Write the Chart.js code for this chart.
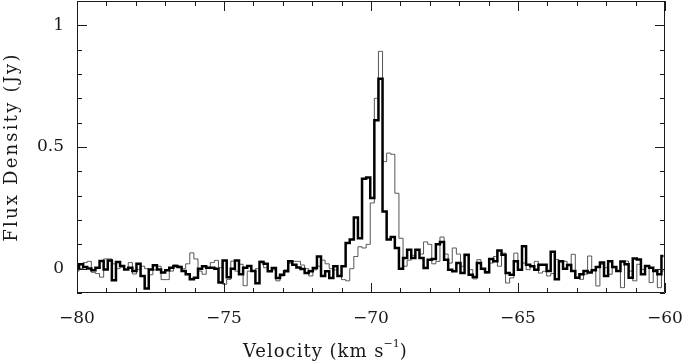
<!DOCTYPE html>
<html>
<head>
<meta charset="utf-8">
<script src="https://cdn.jsdelivr.net/npm/chart.js@4.4.1/dist/chart.umd.min.js"></script>
<style>
  html, body { margin: 0; padding: 0; background: #fff; }
  #wrap { width: 685px; height: 361px; }
</style>
</head>
<body>
<div id="wrap"><canvas id="myChart"></canvas></div>
<script>
// channel grid of the spectrum (km/s): centre of first channel and channel width
const chanStart = -80.0;
const chanWidth = 0.1395;

// flux density per channel (Jy)
const thickFlux = [
  0.001, 0.018, 0.007, 0.001, -0.007, 0.004, 0.031, -0.003, 0.034, -0.048,
  0.027, 0.011, -0.003, 0.004, -0.010, 0.020, -0.030, -0.082, -0.003, 0.014,
  -0.003, -0.016, -0.007, 0.004, 0.011, 0.007, -0.010, -0.023, -0.044, -0.037,
  0.000, 0.010, 0.004, 0.004, 0.000, -0.057, 0.034, -0.035, 0.000, 0.034,
  -0.023, 0.004, 0.011, -0.010, -0.060, 0.027, 0.020, -0.011, 0.003, -0.038,
  -0.025, -0.011, 0.030, 0.016, 0.005, -0.001, -0.018, -0.011, 0.003, 0.050,
  -0.030, -0.011, -0.038, 0.010, -0.030, 0.010, 0.105, 0.120, 0.210, 0.125,
  0.370, 0.375, 0.290, 0.610, 0.780, 0.235, 0.120, 0.130, 0.085, 0.000,
  0.044, 0.078, 0.044, 0.078, 0.044, 0.003, 0.037, 0.040, 0.100, 0.110,
  0.037, -0.004, -0.011, 0.023, -0.018, 0.057, -0.025, -0.034, 0.023, 0.000,
  -0.015, 0.040, 0.030, 0.075, 0.057, -0.018, -0.025, 0.030, -0.004, 0.092,
  0.016, 0.010, -0.004, 0.016, 0.016, -0.010, 0.070, -0.044, 0.030, 0.000,
  0.015, -0.010, -0.037, -0.023, -0.010, -0.016, -0.007, 0.007, 0.025, -0.030,
  0.030, 0.007, -0.010, 0.029, 0.018, -0.037, 0.042, 0.038, -0.023, 0.011,
  0.004, -0.010, -0.023, 0.052
];
const thinFlux = [
  -0.010, 0.000, 0.025, 0.030, -0.015, -0.020, -0.035, 0.040, 0.040, 0.020,
  0.000, 0.007, -0.003, 0.025, -0.022, -0.003, 0.010, 0.000, -0.025, -0.005,
  0.010, -0.045, -0.045, -0.010, 0.015, 0.010, 0.000, 0.020, 0.065, 0.040,
  -0.010, -0.023, 0.004, 0.025, 0.034, 0.004, -0.064, -0.044, 0.031, -0.010,
  0.018, -0.070, -0.010, -0.010, 0.000, 0.031, 0.004, -0.010, -0.005, -0.050,
  -0.030, -0.005, 0.022, 0.030, 0.030, 0.015, 0.000, -0.030, -0.005, 0.010,
  0.035, 0.020, 0.000, -0.005, -0.030, -0.045, -0.050, 0.000, 0.050, 0.090,
  0.085, 0.100, 0.270, 0.700, 0.893, 0.440, 0.475, 0.470, 0.310, 0.125,
  0.010, 0.035, 0.055, 0.078, 0.060, 0.110, 0.100, 0.020, 0.030, 0.130,
  0.060, 0.023, 0.085, 0.060, 0.010, 0.053, -0.004, -0.042, 0.037, -0.004,
  -0.018, 0.023, 0.050, 0.010, 0.064, -0.059, -0.038, 0.064, -0.004, 0.023,
  -0.004, 0.010, 0.030, -0.018, -0.011, -0.030, -0.020, 0.038, 0.028, 0.030,
  0.018, 0.059, -0.037, -0.044, -0.023, 0.052, -0.003, -0.071, 0.018, 0.004,
  -0.023, 0.004, -0.010, -0.078, 0.031, -0.010, -0.050, 0.018, -0.003, 0.011,
  -0.057, -0.010, -0.078, -0.010
];

const xTickValues = [-80, -75, -70, -65, -60];
const yTickValues = [0, 0.5, 1];

const FONT = '"DejaVu Serif", serif';
const INK = '#1a1a1a';

function toPoints(flux) {
  return flux.map((f, i) => ({ x: chanStart + i * chanWidth, y: f }));
}
function fmt(v) {
  return (v < 0 ? '\u2212' : '') + Math.abs(v);
}

// frame with inward ticks on all four sides, plus axis titles
const frameTicks = {
  id: 'frameTicks',
  afterDraw(chart) {
    const { ctx, chartArea: a, scales: { x, y } } = chart;
    ctx.save();
    ctx.strokeStyle = INK;
    ctx.lineWidth = 1;
    ctx.beginPath();
    ctx.rect(Math.round(a.left) + 0.5, Math.round(a.top) + 0.5,
      Math.round(a.right - a.left) - 1, Math.round(a.bottom - a.top) - 1);
    for (let v = x.min; v <= x.max; v++) {
      const px = Math.round(x.getPixelForValue(v)) + 0.5;
      const len = v % 5 === 0 ? 10 : 5;
      ctx.moveTo(px, a.bottom); ctx.lineTo(px, a.bottom - len);
      ctx.moveTo(px, a.top); ctx.lineTo(px, a.top + len);
    }
    for (let k = -1; k <= 11; k++) {
      const py = Math.round(y.getPixelForValue(k / 10)) + 0.5;
      const len = k % 5 === 0 ? 10 : 5;
      ctx.moveTo(a.left, py); ctx.lineTo(a.left + len, py);
      ctx.moveTo(a.right, py); ctx.lineTo(a.right - len, py);
    }
    ctx.stroke();

    // x title with superscript
    ctx.fillStyle = INK;
    ctx.textBaseline = 'alphabetic';
    ctx.textAlign = 'left';
    ctx.font = '18px ' + FONT;
    ctx.letterSpacing = '1px';
    const main = 'Velocity (km s';
    let tx = 243;
    ctx.fillText(main, tx, 357);
    tx += ctx.measureText(main).width - 1;
    ctx.font = '11px ' + FONT;
    ctx.letterSpacing = '0px';
    ctx.fillText('\u22121', tx, 347);
    tx += ctx.measureText('\u22121').width;
    ctx.font = '18px ' + FONT;
    ctx.fillText(')', tx, 357);

    // y title
    ctx.translate(17, (a.top + a.bottom) / 2);
    ctx.rotate(-Math.PI / 2);
    ctx.textAlign = 'center';
    ctx.letterSpacing = '2.2px';
    ctx.fillText('Flux Density (Jy)', 0, 0);
    ctx.restore();
  }
};

new Chart(document.getElementById('myChart'), {
  type: 'line',
  data: {
    datasets: [
      {
        data: toPoints(thickFlux),
        borderColor: '#000',
        borderWidth: 2.5,
        stepped: 'middle',
        pointRadius: 0
      },
      {
        data: toPoints(thinFlux),
        borderColor: '#555',
        borderWidth: 1,
        stepped: 'middle',
        pointRadius: 0
      }
    ]
  },
  options: {
    responsive: true,
    maintainAspectRatio: false,
    animation: false,
    layout: { padding: { top: 1, right: 20, left: 0, bottom: 0 } },
    plugins: {
      legend: { display: false },
      tooltip: { enabled: false }
    },
    scales: {
      x: {
        type: 'linear',
        min: -80,
        max: -60,
        grid: { display: false, drawTicks: false },
        border: { display: false },
        afterBuildTicks: (s) => { s.ticks = xTickValues.map(v => ({ value: v })); },
        afterFit: (s) => { s.height = 68; s.paddingLeft = 0; s.paddingRight = 0; },
        ticks: {
          padding: 15,
          maxRotation: 0,
          color: INK,
          font: { family: FONT, size: 17 },
          callback: (v) => fmt(v)
        }
      },
      y: {
        min: -0.1,
        max: 1.1,
        grid: { display: false, drawTicks: false },
        border: { display: false },
        afterBuildTicks: (s) => { s.ticks = yTickValues.map(v => ({ value: v })); },
        afterFit: (s) => { s.width = 77; s.paddingTop = 0; s.paddingBottom = 0; },
        ticks: {
          padding: 13,
          color: INK,
          font: { family: FONT, size: 17 },
          callback: (v) => fmt(v)
        }
      }
    }
  },
  plugins: [frameTicks]
});
</script>
</body>
</html>
